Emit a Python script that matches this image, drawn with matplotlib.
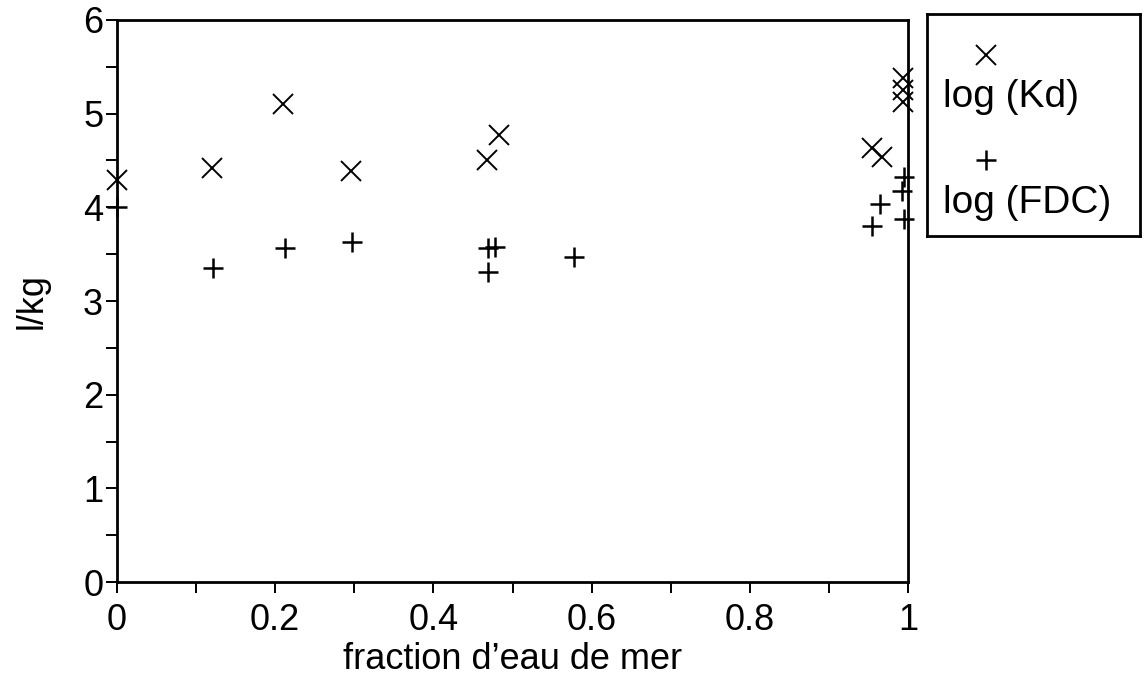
import matplotlib
matplotlib.use('Agg')
import matplotlib.pyplot as plt
from matplotlib.ticker import MultipleLocator

# fraction of sea water and log values
frac_kd = [0.0, 0.12, 0.21, 0.296, 0.468, 0.483, 0.955, 0.967, 0.994, 0.994, 0.994]
log_kd = [4.29, 4.42, 5.10, 4.39, 4.50, 4.77, 4.63, 4.54, 5.38, 5.25, 5.12]

frac_fdc = [0.0, 0.121, 0.212, 0.297, 0.469, 0.469, 0.478, 0.578, 0.995, 0.993, 0.965, 0.995, 0.955]
log_fdc = [4.00, 3.35, 3.57, 3.63, 3.31, 3.57, 3.58, 3.47, 4.32, 4.17, 4.04, 3.88, 3.80]

labels = ['log (Kd)', 'log (FDC)']

plt.rcParams['font.family'] = ['Liberation Sans', 'DejaVu Sans']


def main():
    fig = plt.figure(figsize=(11.44, 6.8), dpi=100)
    ax = fig.add_axes([0.1023, 0.1441, 0.6914, 0.8265])

    ax.plot(frac_kd, log_kd, linestyle='none', marker='x', ms=15, mew=1.4,
            color='black', clip_on=False)
    ax.plot(frac_fdc, log_fdc, linestyle='none', marker='+', ms=15, mew=1.8,
            color='black', clip_on=False)

    ax.set_xlim(0, 1)
    ax.set_ylim(0, 6)
    ax.xaxis.set_minor_locator(MultipleLocator(0.1))
    ax.yaxis.set_major_locator(MultipleLocator(1))
    ax.yaxis.set_minor_locator(MultipleLocator(0.5))
    ax.set_xticks([0, 0.2, 0.4, 0.6, 0.8, 1.0])
    ax.set_xticklabels(['0', '0.2', '0.4', '0.6', '0.8', '1'])
    ax.tick_params(which='both', direction='out', length=8, width=1.4,
                   labelsize=26)
    ax.tick_params(axis='x', which='major', pad=7)
    ax.tick_params(axis='y', which='major', pad=2)
    for s in ax.spines.values():
        s.set_linewidth(2)

    ax.set_xlabel("fraction d\u2019eau de mer", fontsize=26, labelpad=3)
    ax.set_ylabel('l/kg', fontsize=26, labelpad=24)

    # legend box: marker above its label
    lax = fig.add_axes([0.8103, 0.653, 0.1862, 0.3265])
    lax.set_xlim(0, 1)
    lax.set_ylim(0, 1)
    lax.set_xticks([])
    lax.set_yticks([])
    for s in lax.spines.values():
        s.set_linewidth(2)
    lax.plot([0.277], [0.815], linestyle='none', marker='x', ms=15, mew=1.4, color='black')
    lax.text(0.075, 0.626, labels[0], fontsize=28, va='center', ha='left')
    lax.plot([0.277], [0.342], linestyle='none', marker='+', ms=15, mew=1.8, color='black')
    lax.text(0.075, 0.149, labels[1], fontsize=28, va='center', ha='left')

    fig.savefig('out.png', dpi=100)
    plt.close(fig)


if __name__ == '__main__':
    main()
